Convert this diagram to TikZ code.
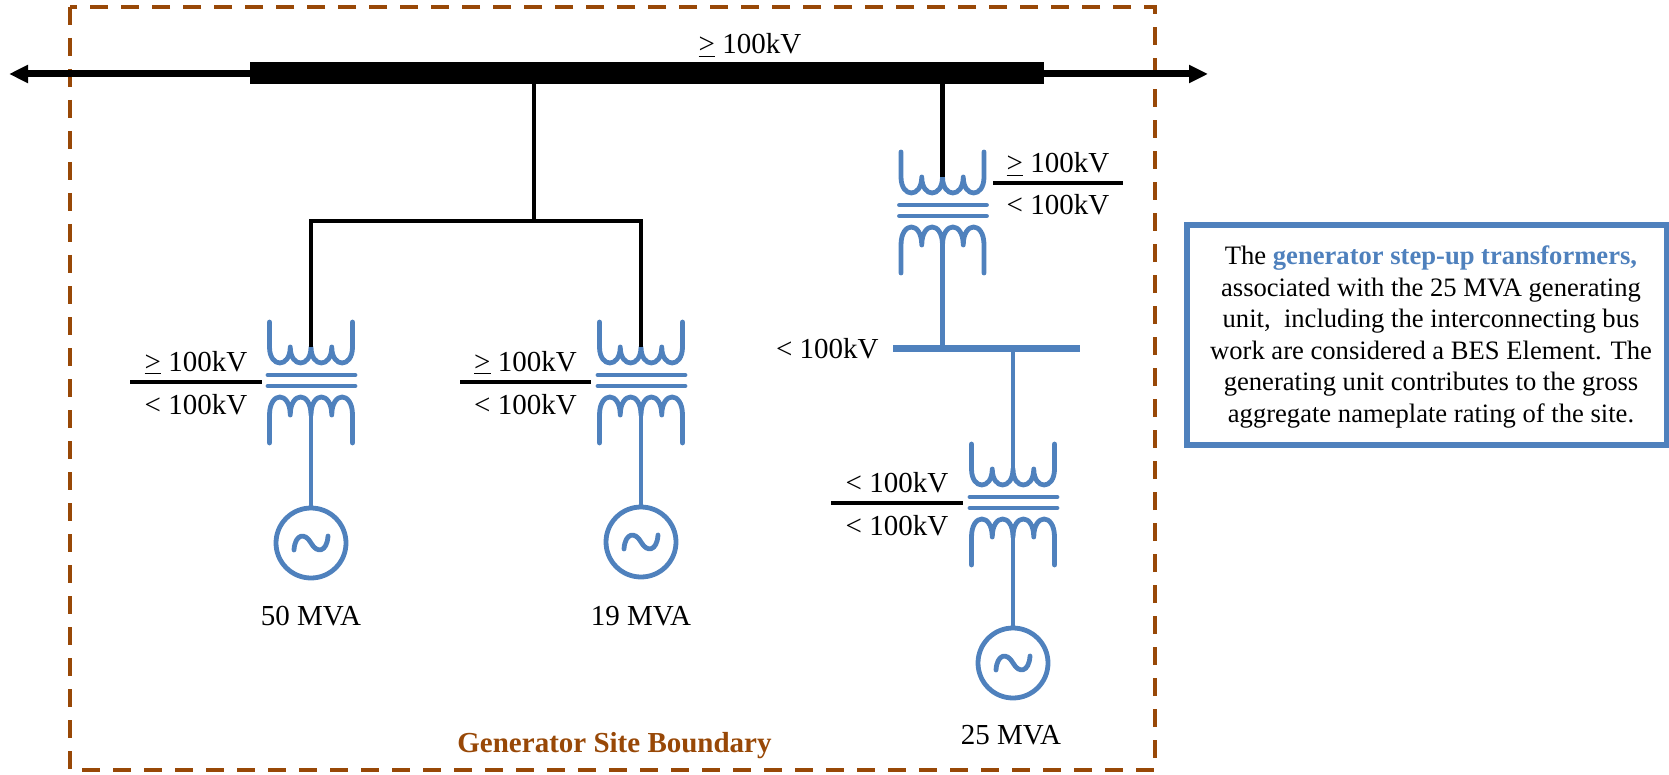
\documentclass[tikz,border=0pt]{standalone}
\usepackage{fontspec}
\setmainfont{Liberation Serif}
\usetikzlibrary{arrows.meta}
\definecolor{sblue}{HTML}{4F81BD}
\definecolor{sbrown}{HTML}{984807}
\tikzset{
 coil/.style={draw=sblue, line width=2.4pt, line cap=round, line join=round},
 wire/.style={draw=black, line width=2.4pt},
 lblline/.style={draw=black, line width=2pt},
 lbl/.style={font=\fontsize{14.5}{17}\selectfont, inner sep=0pt, anchor=base},
 gen/.style={circle, draw=sblue, line width=2.4pt, minimum size=35pt, inner sep=0pt},
 bigtip/.tip={Triangle[length=9.5pt,width=8.5pt]},
 xfmr/.pic={
   \draw[coil] (-41.5,-25) -- (-41.5,0)
     .. controls (-41.5,21.3) and (-20.75,21.3) .. (-20.75,0)
     .. controls (-20.75,21.3) and (0,21.3) .. (0,0)
     .. controls (0,21.3) and (20.75,21.3) .. (20.75,0)
     .. controls (20.75,21.3) and (41.5,21.3) .. (41.5,0) -- (41.5,-25);
   \draw[coil] (-43,28) -- (44,28) (-43,39) -- (44,39);
   \draw[coil] (-41.5,96) -- (-41.5,68)
     .. controls (-41.5,44) and (-20.75,44) .. (-20.75,68)
     .. controls (-20.75,44) and (0,44) .. (0,68)
     .. controls (0,44) and (20.75,44) .. (20.75,68)
     .. controls (20.75,44) and (41.5,44) .. (41.5,68) -- (41.5,96);
   \coordinate (-top) at (0,0);
   \coordinate (-bot) at (0,68);
 },
}
\begin{document}
\begin{tikzpicture}[x=0.5pt,y=-0.5pt]
\useasboundingbox (0,0) rectangle (1669,775);

% site boundary
\draw[sbrown, line width=2.2pt, dash pattern=on 9pt off 6.5pt] (70,7) rectangle (1155,770);
\node[font=\bfseries\fontsize{14.5}{17}\selectfont, text=sbrown, inner sep=0pt, anchor=base] (site) at (614.5,752) {Generator Site Boundary};

% main line with arrows and bus bar
\coordinate (lft) at (9,74);
\coordinate (rgt) at (1208,74);
\draw[line width=3.5pt, bigtip-bigtip] (lft) -- (rgt);
\node[fill=black, minimum width=397pt, minimum height=11pt, inner sep=0pt] (bus) at (647,73) {};
\node[lbl] (buslbl) at (750,53.5) {\underline{>} 100kV};

% transformers
\pic (T1) at (311,347) {xfmr};
\pic (T2) at (641,347) {xfmr};
\pic (T3) at (942.5,177) {xfmr};
\pic (T4) at (1013,469) {xfmr};

% black wires
\coordinate (j1) at (534,221);
\draw[wire] (bus.south -| j1) -- (j1);
\draw[wire] (T1-top) |- (j1) -| (T2-top);
\draw[wire] (bus.south -| T3-top) -- (T3-top);

% blue bus
\node[fill=sblue, minimum width=93.5pt, minimum height=3.5pt, inner sep=0pt] (bbus) at (986.5,348.5) {};
\node[lbl, anchor=base east] (bbuslbl) at (879,358.5) {< 100kV};
\draw[coil, line cap=butt] (T3-bot) -- (T3-bot |- bbus.center);
\draw[coil, line cap=butt] (bbus.center -| T4-top) -- (T4-top);

% generators
\node[gen] (g1) at (311,543) {};
\node[gen] (g2) at (641,542) {};
\node[gen] (g3) at (1013,663) {};
\foreach \g in {g1,g2,g3}
  \draw[coil, shift={(\g.center)}] (-17,7) .. controls (-16,-9) and (-6,-11) .. (0,0)
     .. controls (6,11) and (16,9) .. (17,-7);
\draw[coil, line cap=butt] (T1-bot) -- (g1.north);
\draw[coil, line cap=butt] (T2-bot) -- (g2.north);
\draw[coil, line cap=butt] (T4-bot) -- (g3.north);
\node[lbl] (g1lbl) at (311,625.5) {50 MVA};
\node[lbl] (g2lbl) at (641,625.5) {19 MVA};
\node[lbl] (g3lbl) at (1011,744) {25 MVA};

% voltage labels
\draw[lblline] (130,382) -- (262,382);
\node[lbl] at (196,371) {\underline{>} 100kV};
\node[lbl] at (196,414.5) {< 100kV};
\draw[lblline] (460,382) -- (591,382);
\node[lbl] at (525.5,371) {\underline{>} 100kV};
\node[lbl] at (525.5,414.5) {< 100kV};
\draw[lblline] (993,183) -- (1123,183);
\node[lbl] at (1058,172.5) {\underline{>} 100kV};
\node[lbl] at (1058,214.5) {< 100kV};
\draw[lblline] (831,503) -- (963,503);
\node[lbl] at (897,492.5) {< 100kV};
\node[lbl] at (897,535) {< 100kV};

% text box
\node[draw=sblue, line width=3pt, minimum width=240pt, minimum height=110pt, inner sep=0pt] (box) at (1426.5,335) {};
\node[align=center, inner sep=0pt, font=\fontsize{13.3}{15.8}\selectfont] (boxtext) at (1431,337)
 {The \textbf{\color{sblue}generator step-up transformers,}\\
  associated with the 25 MVA generating\\
  unit, \ including the interconnecting bus\\
  work are considered a BES Element. The\\
  generating unit contributes to the gross\\
  aggregate nameplate rating of the site.};
\end{tikzpicture}
\end{document}
